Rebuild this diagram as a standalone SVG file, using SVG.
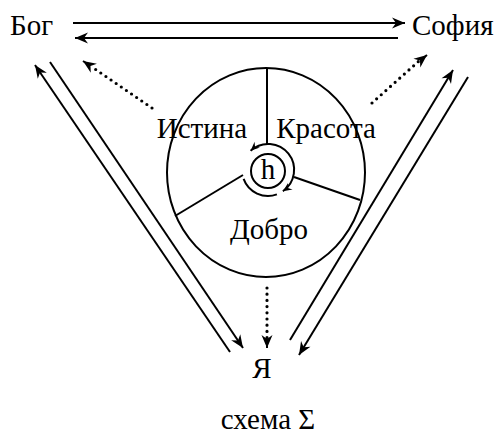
<svg xmlns="http://www.w3.org/2000/svg" width="500" height="434" viewBox="0 0 500 434">
<defs>
<marker id="ah" viewBox="-14 -6 15 12" refX="0" refY="0" markerWidth="15" markerHeight="12" markerUnits="userSpaceOnUse" orient="auto-start-reverse"><path d="M0,0 L-13,-5.5 L-9,0 L-13,5.5 Z" fill="#000"/></marker>
<marker id="ahs" viewBox="-10 -5 11 10" refX="0" refY="0" markerWidth="11" markerHeight="10" markerUnits="userSpaceOnUse" orient="auto-start-reverse"><path d="M0,0 L-9,-4 L-6,0 L-9,4 Z" fill="#000"/></marker>
</defs>
<style>
text{font-family:"Liberation Serif","Times New Roman",serif;font-size:29px;fill:#000}
.ln{stroke:#000;stroke-width:2;fill:none}
.dot{stroke:#000;stroke-width:3.2;fill:none;stroke-linecap:round;stroke-dasharray:0 6.2}
</style>
<rect width="500" height="434" fill="#fff"/>
<g id="bog"><text x="10" y="35">Бог</text></g>
<g id="sofia"><text x="412" y="35">София</text></g>
<g id="ya"><text x="262" y="378" text-anchor="middle">Я</text></g>
<g id="caption"><text x="268" y="429" text-anchor="middle" font-size="26">схема Σ</text></g>
<g id="wheel">
<ellipse cx="266" cy="172.5" rx="99" ry="104.5" class="ln"/>
<line x1="267" y1="68" x2="267" y2="144" class="ln"/>
<line x1="175" y1="216" x2="243" y2="175" class="ln"/>
<line x1="294" y1="177" x2="360" y2="200" class="ln"/>
<text x="202" y="138" text-anchor="middle">Истина</text>
<text x="326" y="138" text-anchor="middle">Красота</text>
<text x="269" y="239" text-anchor="middle">Добро</text>
</g>
<g id="h">
<circle cx="268" cy="171" r="17" class="ln"/>
<path d="M250.6,150.7 A26,26 0 1 1 282.9,191.3" class="ln" marker-start="url(#ahs)" marker-end="url(#ahs)"/>
<path d="M243.6,178.9 A26,26 0 0 0 276.9,194.4" class="ln"/>
<text x="268" y="179" text-anchor="middle">h</text>
</g>
<g id="connectors">
<line x1="73" y1="23" x2="405" y2="23" class="ln" marker-end="url(#ah)"/>
<line x1="398" y1="38" x2="75" y2="38" class="ln" marker-end="url(#ah)"/>
<line x1="50" y1="62" x2="243" y2="348" class="ln" marker-end="url(#ah)"/>
<line x1="230" y1="352" x2="35" y2="65" class="ln" marker-end="url(#ah)"/>
<line x1="290" y1="340" x2="453" y2="70" class="ln" marker-end="url(#ah)"/>
<line x1="468" y1="77" x2="299" y2="355" class="ln" marker-end="url(#ah)"/>
<line x1="152" y1="108" x2="92" y2="67" class="dot"/>
<line x1="89" y1="65" x2="83" y2="61" class="ln" marker-end="url(#ah)"/>
<line x1="372" y1="103" x2="419" y2="61" class="dot"/>
<line x1="422" y1="59" x2="427" y2="55" class="ln" marker-end="url(#ah)"/>
<line x1="267" y1="288" x2="267" y2="338" class="dot"/>
<line x1="267" y1="342" x2="267" y2="348" class="ln" marker-end="url(#ah)"/>
</g>
</svg>
